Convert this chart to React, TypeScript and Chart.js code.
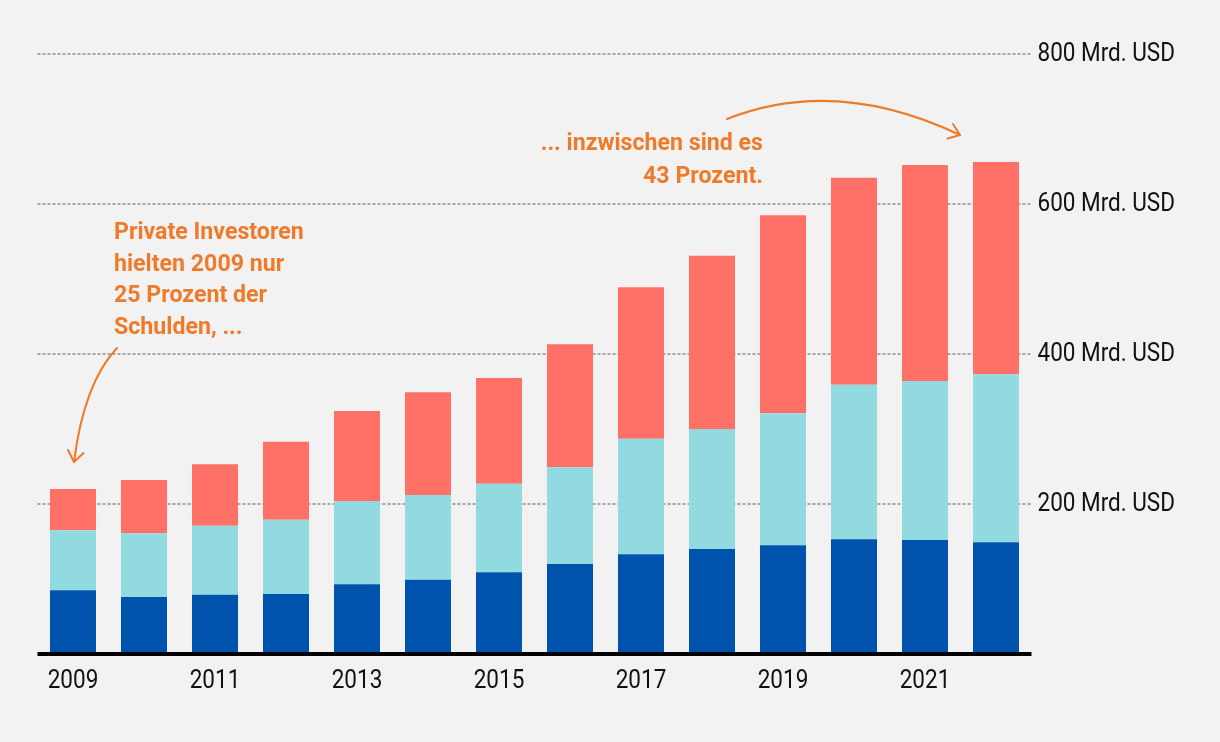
import React, { useEffect, useRef } from 'react';
import { Chart, registerables } from 'chart.js';

Chart.register(...registerables);

const years = ['2009', '2010', '2011', '2012', '2013', '2014', '2015', '2016', '2017', '2018', '2019', '2020', '2021', '2022'];
const multilateral = [85, 76, 79, 80, 93, 99, 109, 120, 133, 140, 145, 153, 152, 149];
const bilateral = [80, 85, 92, 99, 111, 113, 118, 129, 154, 160, 176, 206, 212, 224];
const privat = [55, 71, 82, 104, 120, 137, 141, 164, 202, 231, 264, 276, 288, 283];
const yTicks = [200, 400, 600, 800];
const unit = 'Mrd. USD';
const note1 = ['Private Investoren', 'hielten 2009 nur', '25 Prozent der', 'Schulden, ...'];
const note2 = ['... inzwischen sind es', '43 Prozent.'];

const BG = '#f2f2f2';
const ORANGE = '#ef7a2a';
const FONT = 'Roboto, "Noto Sans", sans-serif';
const TICK_FONT = `25px ${FONT}`;
const TICK_SX = 0.9;
const NOTE_FONT = `bold 24px ${FONT}`;
const NOTE_SX = 0.965;

function squeezedText(ctx: any, text: string, x: number, y: number, sx: number) {
  ctx.save();
  ctx.translate(x, y);
  ctx.scale(sx, 1);
  ctx.fillText(text, 0, 0);
  ctx.restore();
}

const decorPlugin = {
  id: 'decor',
  beforeDraw(chart: any) {
    const { ctx, width, height } = chart;
    ctx.save();
    ctx.fillStyle = BG;
    ctx.fillRect(0, 0, width, height);
    ctx.restore();
  },
  afterDatasetsDraw(chart: any) {
    const { ctx, chartArea } = chart;
    const y0 = chart.scales.y.getPixelForValue(0);
    ctx.save();
    ctx.strokeStyle = '#000';
    ctx.lineWidth = 4;
    ctx.beginPath();
    ctx.moveTo(chartArea.left, y0);
    ctx.lineTo(chartArea.right, y0);
    ctx.stroke();
    ctx.restore();
  },
  afterDraw(chart: any) {
    const { ctx, chartArea } = chart;
    const xs = chart.scales.x;
    const ys = chart.scales.y;
    ctx.save();
    // tick labels
    ctx.fillStyle = '#111';
    ctx.font = TICK_FONT;
    ctx.textBaseline = 'middle';
    ctx.textAlign = 'left';
    yTicks.forEach((v) => squeezedText(ctx, `${v} ${unit}`, chartArea.right + 6, ys.getPixelForValue(v) + 1, TICK_SX));
    ctx.textAlign = 'center';
    years.forEach((y, i) => {
      if (i % 2 === 0) squeezedText(ctx, y, xs.getPixelForValue(i), 682, TICK_SX);
    });

    // annotations
    ctx.fillStyle = ORANGE;
    ctx.font = NOTE_FONT;
    ctx.textAlign = 'left';
    note1.forEach((t, i) => squeezedText(ctx, t, 114, 233 + i * 31.5, NOTE_SX));
    ctx.textAlign = 'right';
    note2.forEach((t, i) => squeezedText(ctx, t, 763, 144 + i * 33, NOTE_SX));

    ctx.strokeStyle = ORANGE;
    ctx.lineWidth = 2;
    ctx.lineCap = 'round';
    ctx.lineJoin = 'round';
    // arrow 1
    ctx.beginPath();
    ctx.moveTo(117, 348);
    ctx.quadraticCurveTo(84, 383, 74, 462);
    ctx.stroke();
    ctx.beginPath();
    ctx.moveTo(68, 450);
    ctx.lineTo(74, 462);
    ctx.lineTo(83.5, 453);
    ctx.stroke();
    // arrow 2
    ctx.beginPath();
    ctx.moveTo(727, 119);
    ctx.quadraticCurveTo(836, 76, 960, 135);
    ctx.stroke();
    ctx.beginPath();
    ctx.moveTo(953, 124);
    ctx.lineTo(960, 135);
    ctx.lineTo(947.5, 138.5);
    ctx.stroke();
    ctx.restore();
  },
};

export default function App() {
  const ref = useRef<HTMLCanvasElement | null>(null);

  useEffect(() => {
    document.body.style.margin = '0';
    document.body.style.background = BG;
    const canvas = ref.current;
    if (!canvas) return;
    const chart = new Chart(canvas, {
      type: 'bar',
      data: {
        labels: years,
        datasets: [
          { label: 'Multilaterale Gläubiger', data: multilateral, backgroundColor: '#0053ad', borderWidth: 0 },
          { label: 'Bilaterale Gläubiger', data: bilateral, backgroundColor: '#90dae0', borderWidth: 0 },
          { label: 'Private Gläubiger', data: privat, backgroundColor: '#ff7066', borderWidth: 0 },
        ],
      },
      options: {
        responsive: false,
        animation: false,
        devicePixelRatio: 1,
        layout: { padding: { left: 37.5, top: 54, right: 0, bottom: 0 } },
        datasets: { bar: { barPercentage: 0.648, categoryPercentage: 1 } },
        plugins: { legend: { display: false }, tooltip: { enabled: false } },
        scales: {
          x: {
            stacked: true,
            grid: { display: false, drawTicks: false },
            border: { display: false },
            afterFit: (s: any) => { s.height = 88; },
            ticks: {
              autoSkip: false,
              maxRotation: 0,
              padding: 14,
              color: 'rgba(0,0,0,0)',
              font: { family: FONT, size: 22 },
              callback: (_v: any, i: number) => (i % 2 === 0 ? years[i] : ''),
            },
          },
          y: {
            stacked: true,
            position: 'right',
            min: 0,
            max: 800,
            afterFit: (s: any) => { s.width = 188.5; },
            afterBuildTicks: (s: any) => { s.ticks = [0, ...yTicks].map((v) => ({ value: v })); },
            grid: {
              drawTicks: false,
              lineWidth: 2,
              color: (c: any) => (c.tick && c.tick.value === 0 ? 'rgba(0,0,0,0)' : '#a6a6a6'),
            },
            border: { display: false, dash: [3, 2] },
            ticks: {
              padding: 6,
              color: 'rgba(0,0,0,0)',
              font: { family: FONT, size: 22 },
              callback: (v: any) => (v === 0 ? '' : `${v} ${unit}`),
            },
          },
        },
      },
      plugins: [decorPlugin],
    });
    return () => chart.destroy();
  }, []);

  return (
    <div style={{ position: 'absolute', left: 0, top: 0, width: 1220, height: 742, background: BG }}>
      <canvas ref={ref} width={1220} height={742} style={{ display: 'block', width: 1220, height: 742 }} />
    </div>
  );
}
